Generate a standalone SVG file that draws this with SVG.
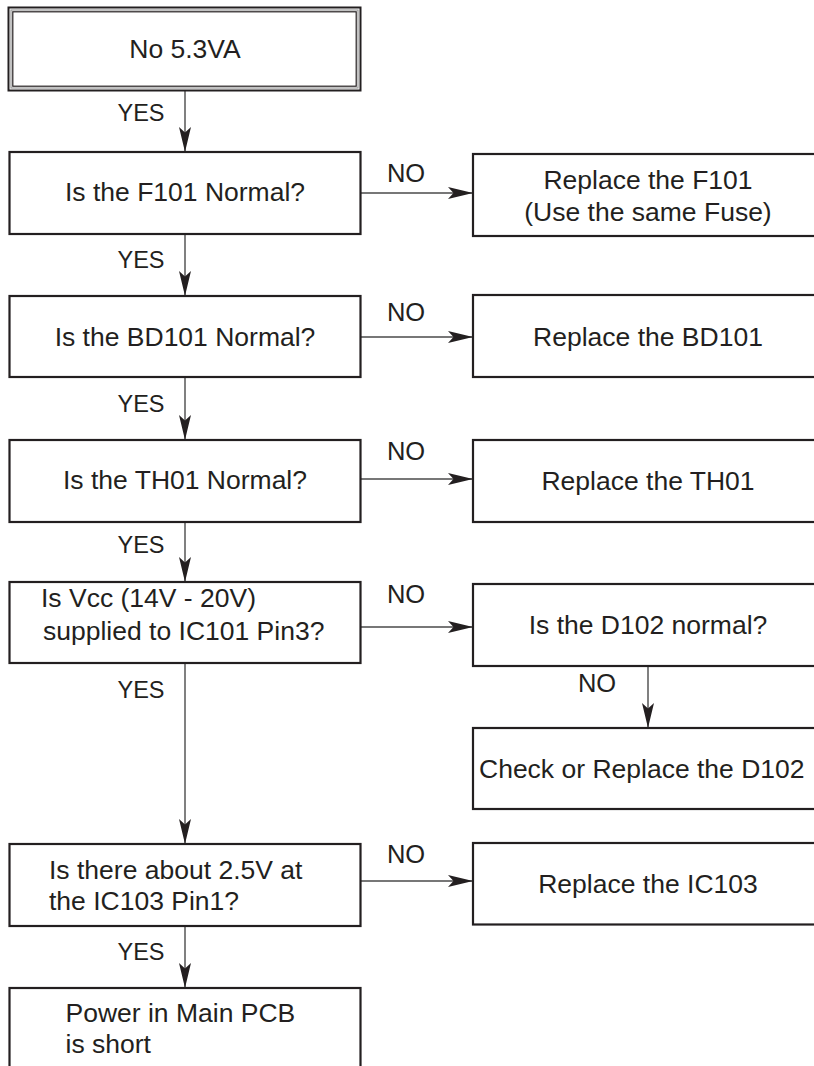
<svg xmlns="http://www.w3.org/2000/svg" width="814" height="1066" viewBox="0 0 814 1066">
<style>
.box{fill:#fff;stroke:#231f20;stroke-width:2.2}
.t{font-family:"Liberation Sans",Arial,Helvetica,sans-serif;font-size:26.5px;fill:#231f20}
.c{text-anchor:middle}
.yes{font-family:"Liberation Sans",Arial,Helvetica,sans-serif;font-size:23.5px;fill:#231f20;text-anchor:middle}
.no{font-family:"Liberation Sans",Arial,Helvetica,sans-serif;font-size:25.5px;fill:#231f20;text-anchor:middle}
.ln{fill:none;stroke:#4a4a4a;stroke-width:1.4}
</style>
<defs>
<marker id="ah" markerUnits="userSpaceOnUse" markerWidth="26" markerHeight="14" viewBox="-25 -7 26 14" refX="0" refY="0" orient="auto">
<path d="M0,0 L-25,-6 L-19.5,0 L-25,6 Z" fill="#231f20"/>
</marker>
</defs>
<rect width="814" height="1066" fill="#fff"/>

<g id="connectors">
<line class="ln" x1="185" y1="90" x2="185" y2="152" marker-end="url(#ah)"/>
<line class="ln" x1="185" y1="234" x2="185" y2="296" marker-end="url(#ah)"/>
<line class="ln" x1="185" y1="377" x2="185" y2="440" marker-end="url(#ah)"/>
<line class="ln" x1="185" y1="522" x2="185" y2="582" marker-end="url(#ah)"/>
<line class="ln" x1="185" y1="663" x2="185" y2="844" marker-end="url(#ah)"/>
<line class="ln" x1="185" y1="926" x2="185" y2="988" marker-end="url(#ah)"/>
<line class="ln" x1="360" y1="193" x2="473" y2="193" marker-end="url(#ah)"/>
<line class="ln" x1="360" y1="337" x2="473" y2="337" marker-end="url(#ah)"/>
<line class="ln" x1="360" y1="479" x2="473" y2="479" marker-end="url(#ah)"/>
<line class="ln" x1="360" y1="627" x2="473" y2="627" marker-end="url(#ah)"/>
<line class="ln" x1="360" y1="881" x2="473" y2="881" marker-end="url(#ah)"/>
<line class="ln" x1="648" y1="666" x2="648" y2="728" marker-end="url(#ah)"/>
<text class="yes" x="141" y="121">YES</text>
<text class="yes" x="141" y="268">YES</text>
<text class="yes" x="141" y="412">YES</text>
<text class="yes" x="141" y="553">YES</text>
<text class="yes" x="141" y="698">YES</text>
<text class="yes" x="141" y="960">YES</text>
<text class="no" x="406" y="182">NO</text>
<text class="no" x="406" y="321">NO</text>
<text class="no" x="406" y="460">NO</text>
<text class="no" x="406" y="603">NO</text>
<text class="no" x="406" y="863">NO</text>
<text class="no" x="597" y="692">NO</text>
</g>

<g id="start">
<rect x="8.5" y="7.5" width="352" height="83" fill="#fff" stroke="#231f20" stroke-width="2"/>
<rect x="11" y="10" width="347" height="78" fill="none" stroke="#9a9a9a" stroke-width="1.2"/>
<rect x="12.8" y="11.8" width="343.4" height="74.4" fill="none" stroke="#231f20" stroke-width="1.2"/>
<text class="t c" x="185" y="58">No 5.3VA</text>
</g>

<g id="f101">
<rect class="box" x="9.5" y="152" width="351" height="82"/>
<text class="t c" x="185" y="201">Is the F101 Normal?</text>
</g>
<g id="replace-f101">
<rect class="box" x="473" y="154" width="360" height="82"/>
<text class="t c" x="648" y="189">Replace the F101</text>
<text class="t c" x="648" y="221">(Use the same Fuse)</text>
</g>

<g id="bd101">
<rect class="box" x="9.5" y="296" width="351" height="81"/>
<text class="t c" x="185" y="345.5">Is the BD101 Normal?</text>
</g>
<g id="replace-bd101">
<rect class="box" x="473" y="295" width="360" height="82"/>
<text class="t c" x="648" y="346">Replace the BD101</text>
</g>

<g id="th01">
<rect class="box" x="9.5" y="440" width="351" height="82"/>
<text class="t c" x="185" y="489">Is the TH01 Normal?</text>
</g>
<g id="replace-th01">
<rect class="box" x="473" y="440" width="360" height="82"/>
<text class="t c" x="648" y="490">Replace the TH01</text>
</g>

<g id="vcc">
<rect class="box" x="9.5" y="582" width="351" height="81"/>
<text class="t" x="41" y="607">Is Vcc (14V - 20V)</text>
<text class="t" x="43" y="640">supplied to IC101 Pin3?</text>
</g>
<g id="d102">
<rect class="box" x="473" y="584" width="360" height="82"/>
<text class="t c" x="648" y="634">Is the D102 normal?</text>
</g>
<g id="check-d102">
<rect class="box" x="473" y="728" width="360" height="81"/>
<text class="t" x="479" y="778">Check or Replace the D102</text>
</g>

<g id="ic103">
<rect class="box" x="9.5" y="844" width="351" height="82"/>
<text class="t" x="49" y="878.5">Is there about 2.5V at</text>
<text class="t" x="49" y="909.5">the IC103 Pin1?</text>
</g>
<g id="replace-ic103">
<rect class="box" x="473" y="843" width="360" height="81.5"/>
<text class="t c" x="648" y="893">Replace the IC103</text>
</g>

<g id="short">
<rect class="box" x="9.5" y="988" width="351" height="100"/>
<text class="t" x="65.5" y="1022">Power in Main PCB</text>
<text class="t" x="65.5" y="1053">is short</text>
</g>
</svg>
